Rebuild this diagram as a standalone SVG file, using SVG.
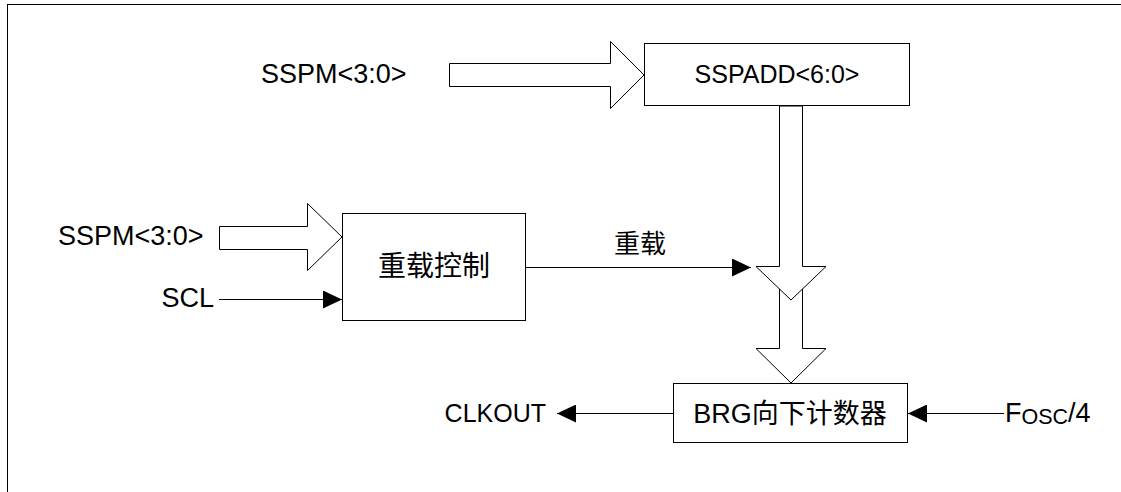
<svg xmlns="http://www.w3.org/2000/svg" width="1121" height="492" viewBox="0 0 1121 492">
<style>
.box{fill:#fff;stroke:#000;stroke-width:1}
.ha{fill:#fff;stroke:#000;stroke-width:1;stroke-linejoin:miter}
.ln{fill:none;stroke:#000;stroke-width:1}
.t{font-family:"Liberation Sans",Arial,sans-serif;font-size:27px;fill:#000}
.s{font-family:"Liberation Sans",Arial,sans-serif;font-size:25px;fill:#000}
.c{font-family:"Liberation Sans","Noto Sans CJK SC",sans-serif;font-size:26px;fill:#000}
</style>
<defs>
<marker id="ah" markerUnits="userSpaceOnUse" markerWidth="20" markerHeight="18" refX="19" refY="9" orient="auto">
<path d="M0,0 L19,9 L0,18 Z" fill="#000"/>
</marker>
</defs>
<rect width="1121" height="492" fill="#fff"/>
<g id="frame">
<path class="ln" d="M7,4.5 H1121 M7.5,4 V492"/>
</g>
<g id="connectors">
<polygon class="ha" points="449.5,63.5 610.5,63.5 610.5,41.5 644,75 610.5,108.5 610.5,86.5 449.5,86.5"/>
<polygon class="ha" points="219.5,226.5 307.5,226.5 307.5,203.5 342,237 307.5,270.5 307.5,249.5 219.5,249.5"/>
<polygon class="ha" points="779.5,270 802.5,270 802.5,348.5 826,348.5 791,383 756,348.5 779.5,348.5"/>
<polygon class="ha" points="779.5,106 802.5,106 802.5,266.5 826,266.5 791,300 756,266.5 779.5,266.5"/>
<line class="ln" x1="219" y1="299.5" x2="342" y2="299.5" marker-end="url(#ah)"/>
<line class="ln" x1="526" y1="267.5" x2="751" y2="267.5" marker-end="url(#ah)"/>
<line class="ln" x1="1004" y1="413.5" x2="908" y2="413.5" marker-end="url(#ah)"/>
<line class="ln" x1="673" y1="413.5" x2="557" y2="413.5" marker-end="url(#ah)"/>
</g>
<g id="sspadd">
<rect class="box" x="644.5" y="43.5" width="265" height="62"/>
<text class="s" x="777" y="83" text-anchor="middle">SSPADD&lt;6:0&gt;</text>
</g>
<g id="reload-ctrl">
<rect class="box" x="342.5" y="213.5" width="183" height="107"/>
<text class="c" x="434" y="276" text-anchor="middle" style="font-size:28px">重载控制</text>
</g>
<g id="brg">
<rect class="box" x="673.5" y="383.5" width="234" height="59"/>
<text class="c" x="790" y="423" text-anchor="middle" style="font-size:27px">BRG向下计数器</text>
</g>
<g id="labels">
<text class="t" x="261" y="83">SSPM&lt;3:0&gt;</text>
<text class="t" x="58" y="245">SSPM&lt;3:0&gt;</text>
<text class="t" x="214" y="307" text-anchor="end">SCL</text>
<text class="c" x="640" y="253" text-anchor="middle">重载</text>
<text class="s" x="546" y="422" text-anchor="end">CLKOUT</text>
<text class="t" x="1005" y="422">F<tspan style="font-size:21.5px" dy="2">OSC</tspan><tspan dy="-2">/4</tspan></text>
</g>
</svg>
